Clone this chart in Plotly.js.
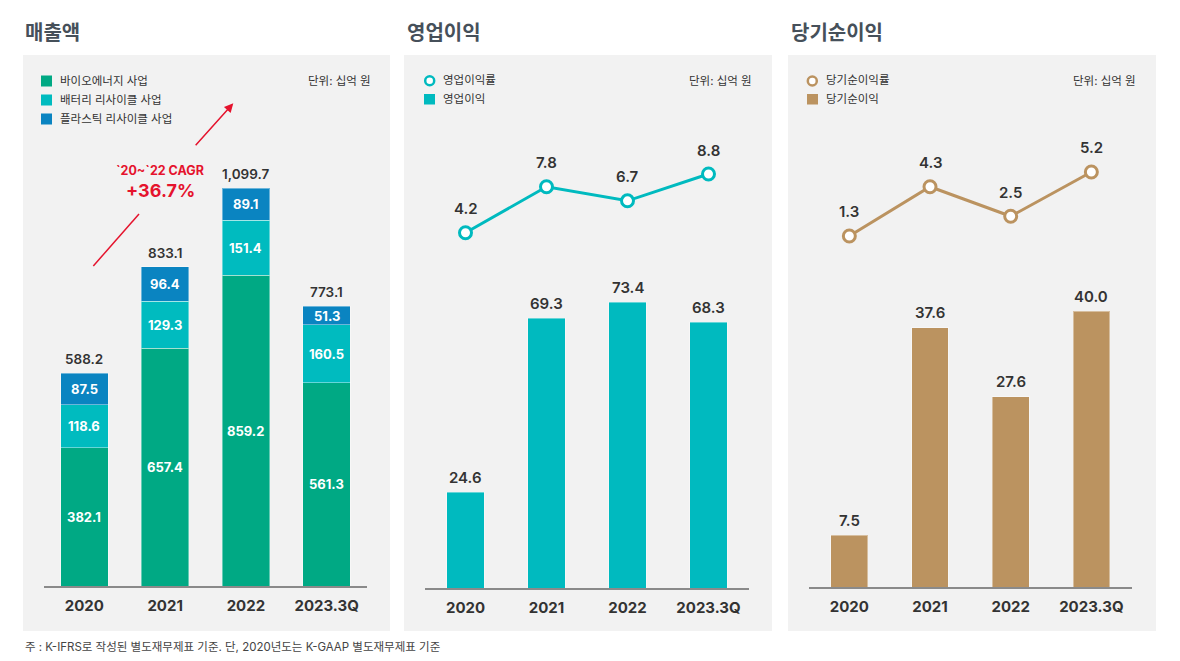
<!DOCTYPE html>
<html>
<head>
<meta charset="utf-8">
<script src="https://cdn.plot.ly/plotly-3.0.1.min.js"></script>
<style>
  html, body { margin: 0; padding: 0; background: #fff; }
  #chart { width: 1180px; height: 661px; }
</style>
</head>
<body>
<div id="chart"></div>
<script>
// ---------- data ----------
const categories = ['2020', '2021', '2022', '2023.3Q'];
const bioEnergy = [382.1, 657.4, 859.2, 561.3];
const batteryRecycling = [118.6, 129.3, 151.4, 160.5];
const plasticRecycling = [87.5, 96.4, 89.1, 51.3];
const revenueTotalLabels = ['588.2', '833.1', '1,099.7', '773.1'];
const operatingIncome = [24.6, 69.3, 73.4, 68.3];
const operatingMargin = [4.2, 7.8, 6.7, 8.8];
const netIncome = [7.5, 37.6, 27.6, 40.0];
const netMargin = [1.3, 4.3, 2.5, 5.2];

const seriesNames = ['바이오에너지 사업', '배터리 리사이클 사업', '플라스틱 리사이클 사업'];
const panelTitles = ['매출액', '영업이익', '당기순이익'];
const opLegend = ['영업이익률', '영업이익'];
const netLegend = ['당기순이익률', '당기순이익'];
const unitText = '단위: 십억 원';
const cagrLines = ['`20~`22 CAGR', '+36.7%'];
const footnote = '주 : K-IFRS로 작성된 별도재무제표 기준. 단, 2020년도는 K-GAAP 별도재무제표 기준';

// ---------- style ----------
const W = 1180, H = 661;
const FONT = 'Inter, "Noto Sans CJK KR", "Noto Sans", sans-serif';
const C_BIO = '#00a984', C_BAT = '#00bbbf', C_PLA = '#0a84c1';
const C_OP = '#00babf', C_NET = '#bb9360';
const TXT = '#333333';
const RED = '#e5132d';
const px = v => v / W;
const py = v => 1 - v / H;

const barLine = { color: 'rgba(255,255,255,0.4)', width: 1 };

// ---------- traces ----------
const traces = [
  { type: 'bar', name: seriesNames[0], x: categories, y: bioEnergy, xaxis: 'x', yaxis: 'y',
    width: 0.59, marker: { color: C_BIO, line: barLine }, hoverinfo: 'skip' },
  { type: 'bar', name: seriesNames[1], x: categories, y: batteryRecycling, xaxis: 'x', yaxis: 'y',
    width: 0.59, marker: { color: C_BAT, line: barLine }, hoverinfo: 'skip' },
  { type: 'bar', name: seriesNames[2], x: categories, y: plasticRecycling, xaxis: 'x', yaxis: 'y',
    width: 0.59, marker: { color: C_PLA, line: barLine }, hoverinfo: 'skip' },
  { type: 'bar', name: opLegend[1], x: categories, y: operatingIncome, xaxis: 'x2', yaxis: 'y2',
    width: 0.457, marker: { color: C_OP, line: barLine }, hoverinfo: 'skip' },
  { type: 'scatter', mode: 'lines+markers', name: opLegend[0], x: categories, y: operatingMargin,
    xaxis: 'x2', yaxis: 'y4', line: { color: C_OP, width: 3 },
    marker: { size: 12, color: '#ffffff', line: { color: C_OP, width: 3 } }, cliponaxis: false, hoverinfo: 'skip' },
  { type: 'bar', name: netLegend[1], x: categories, y: netIncome, xaxis: 'x3', yaxis: 'y3',
    width: 0.455, marker: { color: C_NET, line: barLine }, hoverinfo: 'skip' },
  { type: 'scatter', mode: 'lines+markers', name: netLegend[0], x: categories, y: netMargin,
    xaxis: 'x3', yaxis: 'y5', line: { color: C_NET, width: 3 },
    marker: { size: 12, color: '#ffffff', line: { color: C_NET, width: 3 } }, cliponaxis: false, hoverinfo: 'skip' }
];

// ---------- axes ----------
const TOP = 100;
function xAxis(l, r, anchor) {
  return {
    domain: [px(l), px(r)], anchor: anchor, type: 'category', range: [-0.5, 3.5],
    showline: true, linecolor: '#8a8a8a', linewidth: 1.5, showgrid: false, zeroline: false,
    ticks: '', ticklabelstandoff: 5,
    tickfont: { family: FONT, size: 15, color: TXT, weight: 700 }, fixedrange: true
  };
}
const base1 = 586, base2 = 588.3, base3 = 587;
const layout = {
  width: W, height: H, margin: { l: 0, r: 0, t: 0, b: 0 },
  paper_bgcolor: '#ffffff', plot_bgcolor: 'rgba(0,0,0,0)',
  showlegend: false, barmode: 'stack', font: { family: FONT, color: TXT },
  xaxis: xAxis(44, 367, 'y'),
  xaxis2: xAxis(425, 749, 'y2'),
  xaxis3: xAxis(809, 1131.7, 'y3'),
  yaxis: { domain: [py(base1), py(TOP)], range: [0, (base1 - TOP) / 0.3617], visible: false, fixedrange: true },
  yaxis2: { domain: [py(base2), py(TOP)], range: [0, (base2 - TOP) / 3.895], visible: false, fixedrange: true },
  yaxis3: { domain: [py(base3), py(TOP)], range: [0, (base3 - TOP) / 6.9], visible: false, fixedrange: true },
  yaxis4: { overlaying: 'y2', anchor: 'x2', range: [(286.3 - base2) / 12.76, (286.3 - TOP) / 12.76], visible: false, fixedrange: true },
  yaxis5: { overlaying: 'y3', anchor: 'x3', range: [(257.3 - base3) / 16.41, (257.3 - TOP) / 16.41], visible: false, fixedrange: true },
  shapes: [],
  annotations: []
};

// panel backgrounds
[[23, 390], [404, 772], [788, 1156]].forEach(([l, r]) => {
  layout.shapes.push({ type: 'rect', xref: 'paper', yref: 'paper', layer: 'below',
    x0: px(l), x1: px(r), y0: py(631), y1: py(55), fillcolor: '#f2f2f2', line: { width: 0 } });
});

// panel titles
[[23, panelTitles[0]], [405, panelTitles[1]], [789, panelTitles[2]]].forEach(([x, t]) => {
  layout.annotations.push({ xref: 'paper', yref: 'paper', x: px(x), y: py(33), xanchor: 'left', yanchor: 'middle',
    text: t, showarrow: false, font: { family: FONT, size: 20, color: '#46505a', weight: 700 } });
});

// unit texts
[372.7, 754.3, 1137.7].forEach(x => {
  layout.annotations.push({ xref: 'paper', yref: 'paper', x: px(x), y: py(81), xanchor: 'right', yanchor: 'middle',
    text: unitText, showarrow: false, font: { family: FONT, size: 11.5, color: TXT } });
});

function legendText(x, y, t) {
  layout.annotations.push({ xref: 'paper', yref: 'paper', x: px(x), y: py(y), xanchor: 'left', yanchor: 'middle',
    text: t, showarrow: false, font: { family: FONT, size: 11.5, color: TXT } });
}
function legendSquare(x0, y0, x1, y1, color) {
  layout.shapes.push({ type: 'rect', xref: 'paper', yref: 'paper', x0: px(x0), x1: px(x1), y0: py(y1), y1: py(y0),
    fillcolor: color, line: { width: 0 } });
}
function legendCircle(cx, cy, color) {
  layout.shapes.push({ type: 'circle', xref: 'paper', yref: 'paper', x0: px(cx - 4.5), x1: px(cx + 4.5),
    y0: py(cy + 4.5), y1: py(cy - 4.5), fillcolor: '#ffffff', line: { color: color, width: 2.5 } });
}
// panel 1 legend
[[81, C_BIO], [100, C_BAT], [119, C_PLA]].forEach(([y, c], i) => {
  legendSquare(41, y - 5.5, 52, y + 5.5, c);
  legendText(57.5, y, seriesNames[i]);
});
// panel 2 legend
legendCircle(429.7, 80.7, C_OP); legendText(441, 80.5, opLegend[0]);
legendSquare(424, 94, 435, 104.5, C_OP); legendText(441, 99.3, opLegend[1]);
// panel 3 legend
legendCircle(812.3, 81, C_NET); legendText(824, 80.5, netLegend[0]);
legendSquare(807, 94, 818, 104.5, C_NET); legendText(824, 99.3, netLegend[1]);

// panel 1 segment labels and totals (x given as category index)
const stacks = [bioEnergy, batteryRecycling, plasticRecycling];
categories.forEach((c, i) => {
  let base = 0;
  stacks.forEach(s => {
    layout.annotations.push({ xref: 'x', yref: 'y', x: i, y: base + s[i] / 2, showarrow: false,
      xanchor: 'center', yanchor: 'middle',
      text: s[i].toFixed(1), font: { family: FONT, size: 13, color: '#ffffff', weight: 700 } });
    base += s[i];
  });
  layout.annotations.push({ xref: 'x', yref: 'y', x: i, y: base, yshift: 14, showarrow: false,
    xanchor: 'center', yanchor: 'middle',
    text: revenueTotalLabels[i], font: { family: FONT, size: 13.5, color: TXT, weight: 600 } });
});

// panel 2 / 3 bar and line labels
function valueLabels(vals, xr, yr, shift) {
  vals.forEach((v, i) => {
    layout.annotations.push({ xref: xr, yref: yr, x: i, y: v, yshift: shift, showarrow: false,
      xanchor: 'center', yanchor: 'middle',
      text: v.toFixed(1), font: { family: FONT, size: 15, color: TXT, weight: 600 } });
  });
}
valueLabels(operatingIncome, 'x2', 'y2', 15);
valueLabels(operatingMargin, 'x2', 'y4', 24);
valueLabels(netIncome, 'x3', 'y3', 15);
valueLabels(netMargin, 'x3', 'y5', 24);

// CAGR annotation
layout.shapes.push({ type: 'line', xref: 'paper', yref: 'paper', x0: px(93.3), y0: py(266), x1: px(139), y1: py(214),
  line: { color: RED, width: 1.5 } });
layout.annotations.push({ xref: 'paper', yref: 'paper', x: px(233.3), y: py(103.3), ax: -39, ay: 43.4,
  axref: 'pixel', ayref: 'pixel', text: '', showarrow: true, arrowhead: 2, arrowsize: 1.2, arrowwidth: 1.5,
  arrowcolor: RED, standoff: 0, startstandoff: 0 });
layout.annotations.push({ xref: 'paper', yref: 'paper', x: px(160), y: py(170), showarrow: false,
  xanchor: 'center', yanchor: 'middle',
  text: cagrLines[0], font: { family: FONT, size: 12.5, color: RED, weight: 700 } });
layout.annotations.push({ xref: 'paper', yref: 'paper', x: px(160), y: py(191), showarrow: false,
  xanchor: 'center', yanchor: 'middle',
  text: cagrLines[1], font: { family: FONT, size: 18, color: RED, weight: 700 } });

// footnote
layout.annotations.push({ xref: 'paper', yref: 'paper', x: px(23), y: py(647), xanchor: 'left', yanchor: 'middle',
  showarrow: false, text: footnote, font: { family: FONT, size: 11.5, color: '#444444' } });

Plotly.newPlot('chart', traces, layout, { staticPlot: true, displayModeBar: false });
</script>
</body>
</html>
